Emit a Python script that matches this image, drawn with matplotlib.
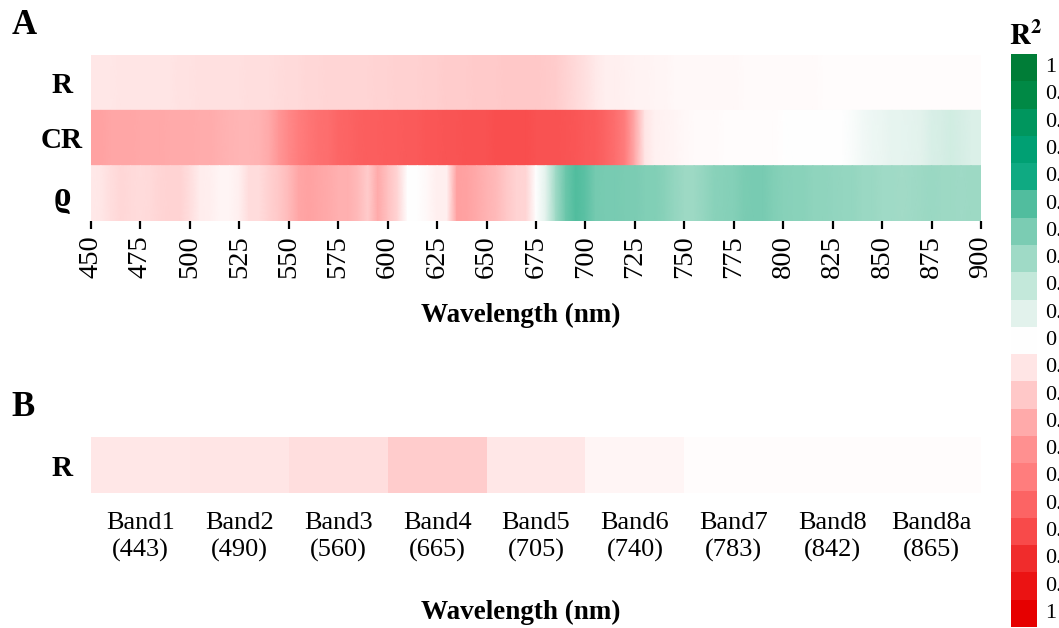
import numpy as np
import matplotlib
matplotlib.use("Agg")
import matplotlib.pyplot as plt
import matplotlib.transforms as mtransforms
from matplotlib.colors import LinearSegmentedColormap, Normalize

plt.rcParams['font.family'] = ['Liberation Serif', 'DejaVu Serif']
plt.rcParams['mathtext.fontset'] = 'stix'

# ---------------- data ----------------
wavelengths = np.arange(450, 901, 5)

# signed R^2 (negative = red, positive = green), sampled every 5 nm
r_full = [-0.09, -0.09, -0.09, -0.095, -0.095, -0.1, -0.1, -0.1, -0.1, -0.105,
          -0.105, -0.11, -0.11, -0.11, -0.115, -0.115, -0.12, -0.12, -0.125, -0.13,
          -0.14, -0.14, -0.145, -0.145, -0.15, -0.15, -0.15, -0.155, -0.155, -0.16,
          -0.16, -0.165,
          -0.17, -0.17, -0.175, -0.175, -0.18, -0.18, -0.185, -0.19, -0.19, -0.195,
          -0.2, -0.2, -0.2, -0.2,
          -0.19, -0.18, -0.16, -0.14, -0.11, -0.08,
          -0.06, -0.055, -0.05, -0.045, -0.04,
          -0.035, -0.035, -0.03, -0.03, -0.03, -0.028, -0.026, -0.025, -0.024,
          -0.022, -0.02, -0.02, -0.02, -0.018, -0.018, -0.016, -0.016, -0.015, -0.015,
          -0.014, -0.013, -0.012,
          -0.011, -0.01, -0.01, -0.01, -0.009, -0.009, -0.008, -0.008, -0.008, -0.008,
          -0.008, -0.008]

cr_full = [-0.33, -0.33, -0.32, -0.32, -0.32, -0.31, -0.31, -0.31,
           -0.3, -0.3, -0.3, -0.29, -0.29, -0.28,
           -0.27, -0.26, -0.26, -0.27, -0.3,
           -0.38, -0.44, -0.5, -0.53, -0.55, -0.56,
           -0.59, -0.6, -0.61, -0.62, -0.62, -0.63, -0.63, -0.64,
           -0.64, -0.65, -0.65, -0.66, -0.66, -0.67, -0.67,
           -0.67, -0.68, -0.68, -0.68, -0.68, -0.67, -0.67, -0.67, -0.66,
           -0.65, -0.64, -0.63, -0.6, -0.56, -0.5,
           -0.3, -0.1, -0.05, -0.04, -0.035, -0.03,
           -0.02, -0.018, -0.016, -0.015, -0.014, -0.013, -0.012, -0.01, -0.008, -0.004,
           0.0, 0.0, 0.0, 0.0, 0.0, 0.005,
           0.02, 0.04, 0.055, 0.07, 0.08, 0.085, 0.09, 0.1,
           0.13, 0.14, 0.15, 0.14, 0.12, 0.12]

rho_full = [-0.085, -0.09, -0.12, -0.145, -0.14, -0.13, -0.14, -0.15,
            -0.16, -0.16, -0.12, -0.07, -0.06, -0.035, -0.035, -0.06,
            -0.13, -0.13, -0.17, -0.2, -0.25, -0.32, -0.33, -0.32, -0.3,
            -0.28, -0.28, -0.25, -0.18, -0.3, -0.22, -0.15, 0.0,
            0.0, -0.03, -0.055, -0.06, -0.34, -0.33, -0.3,
            -0.27, -0.25, -0.2, -0.16, -0.15, 0.0,
            0.1, 0.3, 0.44, 0.5, 0.48, 0.42,
            0.41, 0.41, 0.4, 0.4, 0.39, 0.39, 0.36,
            0.33, 0.31, 0.31, 0.33, 0.36, 0.37, 0.38,
            0.4, 0.41, 0.41, 0.39, 0.37, 0.36, 0.36, 0.35,
            0.35, 0.34, 0.33, 0.33, 0.32, 0.32, 0.3, 0.3,
            0.29, 0.3, 0.31, 0.32, 0.31, 0.31, 0.3, 0.31, 0.31]

row_labels_a = ['R', 'CR', 'ϱ']

band_names = ['Band1', 'Band2', 'Band3', 'Band4', 'Band5', 'Band6', 'Band7', 'Band8', 'Band8a']
band_centres = [443, 490, 560, 665, 705, 740, 783, 842, 865]
r_bands = [-0.09, -0.1, -0.12, -0.18, -0.09, -0.035, -0.015, -0.01, -0.008]

legend_levels = [1.0, 0.9, 0.8, 0.7, 0.6, 0.5, 0.4, 0.3, 0.2, 0.1, 0.0,
                 -0.1, -0.2, -0.3, -0.4, -0.5, -0.6, -0.7, -0.8, -0.9, -1.0]

# ---------------- colour scale ----------------
anchor_values = [-1.0, -0.9, -0.8, -0.7, -0.6, -0.5, -0.4, -0.3, -0.2, -0.1, 0.0,
                 0.1, 0.2, 0.3, 0.4, 0.5, 0.6, 0.7, 0.8, 0.9, 1.0]
anchor_rgb = [(230, 0, 0), (235, 20, 20), (240, 45, 45), (248, 75, 75), (252, 100, 100),
              (255, 125, 125), (255, 145, 145), (255, 170, 170), (255, 200, 200),
              (255, 228, 228), (255, 255, 255),
              (225, 242, 236), (195, 232, 218), (160, 218, 198), (125, 205, 180),
              (85, 190, 160), (15, 170, 130), (0, 160, 115), (0, 150, 95),
              (0, 138, 70), (0, 125, 55)]
cmap = LinearSegmentedColormap.from_list(
    'r2', [((v + 1) / 2, tuple(c / 255 for c in rgb)) for v, rgb in zip(anchor_values, anchor_rgb)])
norm = Normalize(-1, 1)

# ---------------- figure ----------------
W, H = 1059, 628
fig = plt.figure(figsize=(W / 100, H / 100), dpi=100)


def fx(px):
    return px / W


def fy(py):
    return 1 - py / H


# Panel A: full-resolution spectra
axA = fig.add_axes([fx(91), fy(221), fx(981) - fx(91), fy(55) - fy(221)])
rows_a = [r_full, cr_full, rho_full]
for i, vals in enumerate(rows_a):
    X, Y = np.meshgrid(wavelengths, [i, i + 1])
    C = np.vstack([vals, vals])
    axA.pcolormesh(X, Y, C, cmap=cmap, norm=norm, shading='gouraud')
axA.set_xlim(450, 900)
axA.set_ylim(3, 0)
for s in axA.spines.values():
    s.set_visible(False)
axA.set_xticks(np.arange(450, 901, 25))
axA.set_xticklabels([str(v) for v in range(450, 901, 25)], rotation=90, fontsize=20.5)
axA.tick_params(axis='x', length=6, width=1.6, pad=4)
axA.set_yticks([0.5, 1.5, 2.5])
axA.set_yticklabels(row_labels_a, fontsize=21, fontweight='bold')
axA.tick_params(axis='y', length=0, pad=21)
for lab in axA.get_yticklabels():
    lab.set_horizontalalignment('center')
axA.get_yticklabels()[2].set_fontsize(25)
fig.text(fx(521), fy(315), 'Wavelength (nm)', fontsize=19.5, fontweight='bold',
         ha='center', va='center')

# Panel B: Sentinel-2 bands
axB = fig.add_axes([fx(91), fy(493), fx(981) - fx(91), fy(437) - fy(493)])
axB.pcolormesh(np.arange(len(band_names) + 1), [0, 1], np.array([r_bands]),
               cmap=cmap, norm=norm)
axB.set_xlim(0, len(band_names))
axB.set_ylim(1, 0)
for s in axB.spines.values():
    s.set_visible(False)
axB.set_xticks(np.arange(len(band_names)) + 0.5)
axB.set_xticklabels([f'{n}\n({c})' for n, c in zip(band_names, band_centres)],
                    fontsize=19, linespacing=1.25)
axB.tick_params(axis='x', length=0, pad=14)
axB.set_yticks([0.5])
axB.set_yticklabels(['R'], fontsize=21, fontweight='bold')
axB.tick_params(axis='y', length=0, pad=21)
for lab in axB.get_yticklabels():
    lab.set_horizontalalignment('center')
fig.text(fx(521), fy(612), 'Wavelength (nm)', fontsize=19.5, fontweight='bold',
         ha='center', va='center')

# Panel letters
fig.text(fx(24), fy(25), 'A', fontsize=25, fontweight='bold', ha='center', va='center')
fig.text(fx(23), fy(408), 'B', fontsize=25, fontweight='bold', ha='center', va='center')

# Stepped legend for the signed R^2 scale
axL = fig.add_axes([fx(1011), fy(627), fx(1037) - fx(1011), fy(54) - fy(627)])
axL.pcolormesh([0, 1], np.arange(len(legend_levels) + 1),
               np.array(legend_levels).reshape(-1, 1), cmap=cmap, norm=norm)
axL.set_xlim(0, 1)
axL.set_ylim(len(legend_levels), 0)
axL.axis('off')
label_tf = mtransforms.blended_transform_factory(mtransforms.IdentityTransform(), axL.transData)
for k, lv in enumerate(legend_levels):
    axL.text(1045, k + 0.5, f'{abs(lv):g}', fontsize=16, va='center', ha='left',
             transform=label_tf)
fig.text(fx(1026), fy(36), r'$\mathbf{R^2}$', fontsize=21, ha='center', va='center')

fig.savefig('out.png', dpi=100)
